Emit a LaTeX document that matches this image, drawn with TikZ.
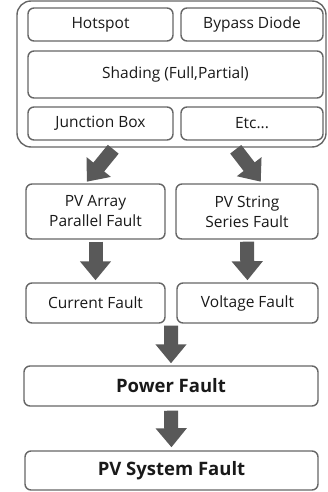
\documentclass[tikz,border=0pt]{standalone}
\usepackage{fontspec}
\setmainfont{Open Sans}
\usetikzlibrary{arrows.meta, positioning, calc}

\begin{document}
\begin{tikzpicture}[
    x = 1pt, y = -1pt,
    box/.style = {
        rectangle, rounded corners=6pt, draw=black!60, line width=1.4pt,
        align = center, inner sep = 0pt, text = black!90,
        font  = \fontsize{15.5}{20}\selectfont
    },
    cause/.style = { box, minimum height = 33pt },
    fault/.style = { box, minimum height = 40pt },
    total/.style = { box, minimum width = 294pt, minimum height = 40pt,
        font = \fontsize{18.5}{22}\selectfont\bfseries },
    frame/.style = { rectangle, rounded corners=14pt, draw=black!60, line width=1.4pt,
        minimum width = 309pt, minimum height = 146pt },
    bigarrow/.style = { -{Triangle[width=30pt, length=19pt]}, line width=14pt,
        draw=black!65, shorten >=2pt, shorten <=2pt },
]
\useasboundingbox (0,0) rectangle (328,492);

%% ── Causes ───────────────────────────────────────────────────────────────
\node[frame] (src) at (171.5,74) {};

\node[cause, minimum width=145pt] (hot)  at (100.5,24.5)  {Hotspot};
\node[cause, minimum width=142pt] (diode) at (252,24.5)   {Bypass Diode};
\node[box, minimum width=295pt, minimum height=47pt] (shade) at (175.5,74.5)
    {Shading (Full,Partial)};
\node[cause, minimum width=145pt] (jbox) at (100.5,123.5) {Junction Box};
\node[cause, minimum width=142pt] (etc)  at (252,123.5)   {Etc...};

%% ── Faults ───────────────────────────────────────────────────────────────
\node[box, minimum width=139pt, minimum height=55pt] (arr) at (95.5,211.5)
    {PV Array\\Parallel Fault};
\node[box, minimum width=142pt, minimum height=55pt] (str) at (247,211.5)
    {PV String\\Series Fault};

\node[fault, minimum width=139pt] (cur)  at (95.5,303)  {Current Fault};
\node[fault, minimum width=141pt] (volt) at (247.5,303) {Voltage Fault};

\node[total] (pow) at (171,386)   {Power Fault};
\node[total, minimum width=293pt, minimum height=39pt] (sys) at (171.5,470.5)
    {PV System Fault};

%% ── Arrows ───────────────────────────────────────────────────────────────
\draw[bigarrow] ([xshift=-57pt] src.south) -- ([xshift=-10pt] arr.north);
\draw[bigarrow] ([xshift=63pt] src.south)  -- ([xshift=15pt] str.north);

\draw[bigarrow] (arr.south) -- (cur.north);
\draw[bigarrow] (str.south) -- (volt.north);

\draw[bigarrow] ($(cur.south east)!0.5!(volt.south west)$) -- (pow.north);
\draw[bigarrow, shorten <=4pt, shorten >=3pt] (pow.south) -- (sys.north);

\end{tikzpicture}
\end{document}
